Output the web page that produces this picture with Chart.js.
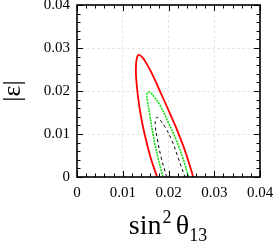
<!DOCTYPE html>
<html><head><meta charset="utf-8">
<script src="https://cdn.jsdelivr.net/npm/chart.js@4"></script>
<style>html,body{margin:0;padding:0;background:#fff;overflow:hidden}canvas{display:block}</style>
</head><body>
<canvas id="c" width="274" height="244"></canvas>
<script>
const xTickLabels = ['0', '0.01', '0.02', '0.03', '0.04'];
const yTickLabels = ['0', '0.01', '0.02', '0.03', '0.04'];

const redX = [0.0175, 0.0161, 0.0149, 0.0140, 0.0133, 0.0129, 0.0129, 0.0131, 0.0135, 0.0143, 0.0153, 0.0166, 0.0182, 0.0203, 0.0223, 0.0240, 0.0254];
const redY = [0, 0.0045, 0.0094, 0.0140, 0.0190, 0.0235, 0.0260, 0.0277, 0.0284, 0.0278, 0.0262, 0.0236, 0.0198, 0.0148, 0.0098, 0.0049, 0];

const greenX = [0.0188, 0.0177, 0.0167, 0.0159, 0.0154, 0.0153, 0.0156, 0.0161, 0.0169, 0.0182, 0.0199, 0.0216, 0.0231, 0.0244];
const greenY = [0, 0.0045, 0.0095, 0.0145, 0.0178, 0.0191, 0.0198, 0.0196, 0.0186, 0.0166, 0.0128, 0.0088, 0.0045, 0];

const blackX = [0.0196, 0.0184, 0.0176, 0.0171, 0.0172, 0.0175, 0.0180, 0.0192, 0.0207, 0.0222, 0.0236];
const blackY = [0, 0.0045, 0.0086, 0.0120, 0.0134, 0.0139, 0.0135, 0.0117, 0.0086, 0.0042, 0];

const pts = (xs, ys) => xs.map((x, i) => ({x: x, y: ys[i]}));

const frame = {
  id: 'frame',
  afterDraw(chart) {
    const ctx = chart.ctx, a = chart.chartArea;
    const xs = chart.scales.x, ys = chart.scales.y;
    ctx.save();
    ctx.strokeStyle = '#000';
    ctx.lineWidth = 1;
    ctx.beginPath();
    for (let k = 0; k <= 20; k++) {
      const v = k * 0.002;
      const len = (k % 5 === 0) ? 6 : 3.5;
      const px = Math.round(xs.getPixelForValue(v)) + 0.5;
      const py = Math.round(ys.getPixelForValue(v)) + 0.5;
      ctx.moveTo(px, a.bottom); ctx.lineTo(px, a.bottom - len);
      ctx.moveTo(px, a.top); ctx.lineTo(px, a.top + len);
      ctx.moveTo(a.left, py); ctx.lineTo(a.left + len, py);
      ctx.moveTo(a.right, py); ctx.lineTo(a.right - len, py);
    }
    ctx.stroke();
    ctx.lineWidth = 1.6;
    ctx.strokeRect(a.left, a.top, a.right - a.left, a.bottom - a.top);

    // axis titles
    ctx.fillStyle = '#000';
    ctx.textBaseline = 'alphabetic';
    ctx.textAlign = 'left';
    const big = '28px "Liberation Serif"', small = '18px "Liberation Serif"';
    ctx.font = big; const w1 = ctx.measureText('sin').width;
    ctx.font = small; const w2 = ctx.measureText('2').width;
    ctx.font = big; const w3 = ctx.measureText('θ').width; const ws = ctx.measureText(' ').width * 0.6;
    ctx.font = small; const w4 = ctx.measureText('13').width;
    const total = w1 + 1 + w2 + ws + w3 + w4;
    let x0 = 168 - total / 2;
    const base = 234;
    ctx.font = big; ctx.fillText('sin', x0, base); x0 += w1 + 1;
    ctx.font = small; ctx.fillText('2', x0, base - 11); x0 += w2 + ws;
    ctx.font = big; ctx.fillText('θ', x0, base); x0 += w3;
    ctx.font = small; ctx.fillText('13', x0, base + 7);

    ctx.translate(13, 91);
    ctx.rotate(-Math.PI / 2);
    ctx.textAlign = 'center';
    ctx.textBaseline = 'middle';
    ctx.font = '26px "Liberation Serif"';
    ctx.fillText('|ε|', 0, 0);
    ctx.restore();
  }
};

const tickFont = {family: 'Liberation Serif', size: 15};

new Chart(document.getElementById('c'), {
  type: 'scatter',
  data: {
    datasets: [
      {data: pts(blackX, blackY), showLine: true, borderColor: '#000', borderWidth: 1, borderDash: [3, 3], pointRadius: 0, tension: 0.4, fill: false},
      {data: pts(greenX, greenY), showLine: true, borderColor: '#11e011', borderWidth: 1.6, borderDash: [2, 1], pointRadius: 0, tension: 0.4, fill: false},
      {data: pts(redX, redY), showLine: true, borderColor: '#ff0000', borderWidth: 1.8, pointRadius: 0, tension: 0.4, fill: false}
    ]
  },
  options: {
    responsive: false,
    animation: false,
    devicePixelRatio: 1,
    layout: {padding: {left: 0, right: 14, top: 5, bottom: 0}},
    plugins: {legend: {display: false}, tooltip: {enabled: false}},
    scales: {
      x: {
        type: 'linear', min: 0, max: 0.04,
        ticks: {stepSize: 0.01, font: tickFont, color: '#000', padding: 7, maxRotation: 0,
                callback: (v, i) => xTickLabels[i]},
        grid: {color: '#e6e6e6', drawTicks: false, lineWidth: 1},
        border: {display: false, dash: [3, 2]},
        afterFit: s => { s.height = 67; s.paddingLeft = 0; s.paddingRight = 0; }
      },
      y: {
        type: 'linear', min: 0, max: 0.04,
        ticks: {stepSize: 0.01, font: tickFont, color: '#000', padding: 7,
                callback: (v, i) => yTickLabels[i]},
        grid: {color: '#e6e6e6', drawTicks: false, lineWidth: 1},
        border: {display: false, dash: [3, 2]},
        afterFit: s => { s.width = 77; s.paddingTop = 0; s.paddingBottom = 0; }
      }
    }
  },
  plugins: [frame]
});
</script>
</body></html>
